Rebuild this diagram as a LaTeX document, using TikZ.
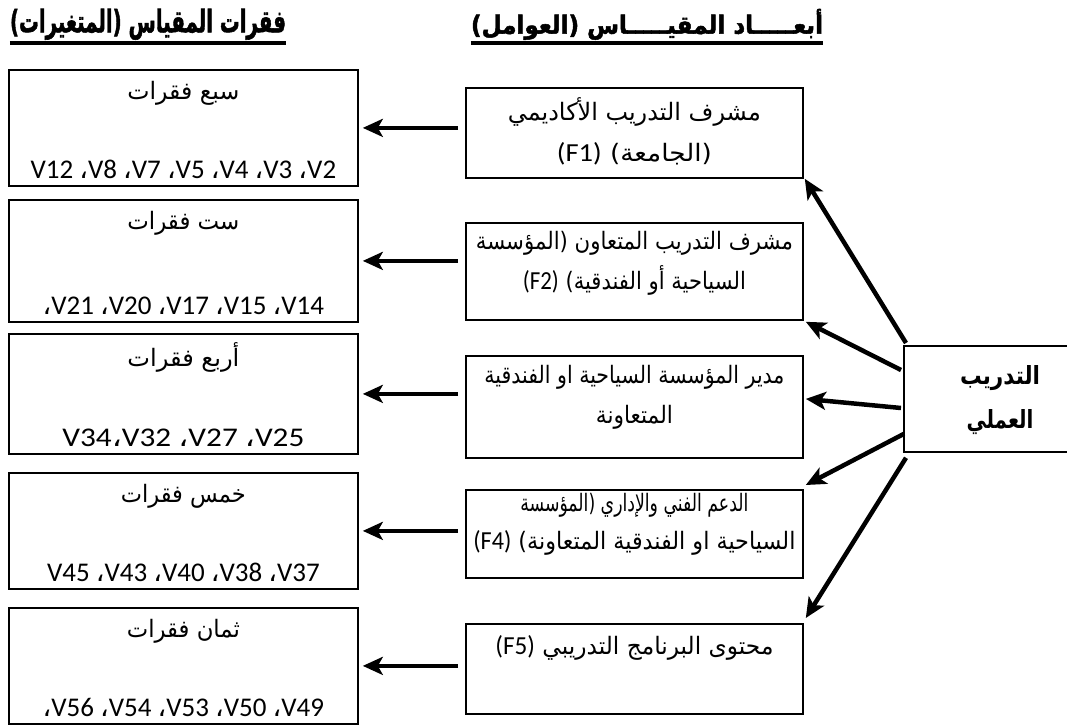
\documentclass[tikz,border=0pt]{standalone}
\usepackage{fontspec}
\setmainfont{Carlito}
\newfontfamily\ar[Script=Arabic]{DejaVu Sans}
\newfontfamily\arc{DejaVu Sans}
\newfontfamily\artitle[Script=Arabic,BoldFeatures={FakeBold=2}]{DejaVu Sans}
\TeXXeTstate=1
\usetikzlibrary{arrows.meta}
\newcommand\acg{{\arc\XeTeXglyph\XeTeXcharglyph"060C\relax}}
\newcommand\cv[1]{\mbox{\acg#1}}
\newcommand\fitw[2]{\resizebox{#1pt}{\height}{#2}}
\newcommand\lat[1]{\beginL{\fontsize{26}{30}\rmfamily #1}\endL}
\begin{document}
\begin{tikzpicture}[x=1pt,y=-1pt,
  box/.style={draw,line width=1.8pt,inner sep=0pt,anchor=north west},
  vbox/.style={box,minimum width=349pt},
  fbox/.style={box,minimum width=337pt},
  atext/.style={inner sep=0pt,font=\ar\fontsize{24}{28}\selectfont},
  ltext/.style={inner sep=0pt,font=\fontsize{27}{31}\selectfont},
  ttl/.style={inner sep=0pt,anchor=south,font=\artitle\bfseries\fontsize{24}{28}\selectfont},
  ctext/.style={inner sep=0pt,font=\ar\bfseries\fontsize{25}{29}\selectfont},
  arr/.style={line width=4.5pt,-{Stealth[length=20pt,width=18pt,inset=5pt]}}]
\useasboundingbox (0,0) rectangle (1067,725);
% titles
\node[ttl] (t1) at (647,40) {\resizebox*{352pt}{31pt}{\beginR أبعـــــاد المقيـــــاس (العوامل)\endR}};
\node[ttl] (t2) at (148,40) {\resizebox*{276pt}{31pt}{\beginR فقرات المقياس (المتغيرات)\endR}};
\draw[line width=3.5pt] ([yshift=-3pt]t1.south west) -- ([yshift=-3pt]t1.south east);
\draw[line width=3.5pt] ([yshift=-3pt]t2.south west) -- ([yshift=-3pt]t2.south east);
% variable boxes
\node[vbox,minimum height=116pt] (v1) at (8,69) {};
\node[vbox,minimum height=122pt] (v2) at (8,199) {};
\node[vbox,minimum height=120pt] (v3) at (8,333) {};
\node[vbox,minimum height=116pt] (v4) at (8,472) {};
\node[vbox,minimum height=116pt] (v5) at (8,607) {};
\node[atext] at ([yshift=-24pt]v1.north) {\fitw{112}{\beginR سبع فقرات\endR}};
\node[atext] at ([yshift=-24pt]v2.north) {\fitw{112}{\beginR ست فقرات\endR}};
\node[atext] at ([yshift=-24pt]v3.north) {\fitw{112}{\beginR أربع فقرات\endR}};
\node[atext] at ([yshift=-24pt]v4.north) {\fitw{125}{\beginR خمس فقرات\endR}};
\node[atext] at ([yshift=-24pt]v5.north) {\fitw{113}{\beginR ثمان فقرات\endR}};
\node[ltext] at ([yshift=17pt]v1.south) {V12 \cv{V8} \cv{V7} \cv{V5} \cv{V4} \cv{V3} \cv{V2}};
\node[ltext] at ([yshift=17pt]v2.south) {\cv{V21} \cv{V20} \cv{V17} \cv{V15} \cv{V14}};
\node[ltext] at ([yshift=17pt]v3.south) {\fitw{242}{V34\cv{V32} \cv{V27} \cv{V25}}};
\node[ltext] at ([yshift=17pt]v4.south) {V45 \cv{V43} \cv{V40} \cv{V38} \cv{V37}};
\node[ltext] at ([yshift=17pt]v5.south) {\cv{V56} \cv{V54} \cv{V53} \cv{V50} \cv{V49}};
% factor boxes
\node[fbox,minimum height=90pt] (f1) at (465,87) {};
\node[fbox,minimum height=97pt] (f2) at (465,222) {};
\node[fbox,minimum height=102pt] (f3) at (465,355) {};
\node[fbox,minimum height=88pt] (f4) at (465,489) {};
\node[fbox,minimum height=90pt] (f5) at (465,623) {};
\node[atext] at ([yshift=-25pt]f1.north) {\fitw{253}{\beginR مشرف التدريب الأكاديمي\endR}};
\node[atext] at ([yshift=-67pt]f1.north) {\fitw{155}{\beginR (الجامعة) \lat{(F1)}\endR}};
\node[atext] at ([yshift=-21pt]f2.north) {\fitw{317}{\beginR مشرف التدريب المتعاون (المؤسسة\endR}};
\node[atext] at ([yshift=-58pt]f2.north) {\fitw{223}{\beginR السياحية أو الفندقية) \lat{(F2)}\endR}};
\node[atext] at ([yshift=-22pt]f3.north) {\fitw{300}{\beginR مدير المؤسسة السياحية او الفندقية\endR}};
\node[atext] at ([yshift=-62pt]f3.north) {\fitw{77}{\beginR المتعاونة\endR}};
\node[atext] at ([yshift=-16pt]f4.north) {\fitw{228}{\beginR الدعم الفني والإداري (المؤسسة\endR}};
\node[atext] at ([yshift=-54pt]f4.north) {\fitw{322}{\beginR السياحية او الفندقية المتعاونة) \lat{(F4)}\endR}};
\node[atext] at ([yshift=-25pt]f5.north) {\fitw{278}{\beginR محتوى البرنامج التدريبي \lat{(F5)}\endR}};
% centre box
\node[box,minimum width=180pt,minimum height=106pt] (c) at (903,345) {};
\node[ctext] at (1000,378) {\fitw{80}{\beginR التدريب\endR}};
\node[ctext] at (1000,422) {\fitw{67}{\beginR العملي\endR}};
% arrows from factors to variables
\draw[arr] ([xshift=-7pt]f1.west |- v1.east) -- ([xshift=4pt]v1.east);
\draw[arr] ([xshift=-7pt]f2.west |- v2.east) -- ([xshift=4pt]v2.east);
\draw[arr] ([xshift=-7pt]f3.west |- v3.east) -- ([xshift=4pt]v3.east);
\draw[arr] ([xshift=-7pt]f4.west |- v4.east) -- ([xshift=4pt]v4.east);
\draw[arr] ([xshift=-7pt]f5.west |- v5.east) -- ([xshift=4pt]v5.east);
% arrows from centre to factors
\draw[arr] ([xshift=3pt,yshift=2pt]c.north west) -- ([xshift=1pt]f1.south east);
\draw[arr] ([xshift=-2pt,yshift=-25pt]c.north west) -- ([xshift=2pt,yshift=-1pt]f2.south east);
\draw[arr] ([xshift=-2pt,yshift=-63pt]c.north west) -- ([xshift=2pt,yshift=8pt]f3.east);
\draw[arr] ([xshift=1pt,yshift=19pt]c.south west) -- ([xshift=2pt,yshift=4pt]f4.north east);
\draw[arr] ([xshift=3pt,yshift=-5pt]c.south west) -- ([xshift=2pt,yshift=5pt]f5.north east);
\end{tikzpicture}
\end{document}
